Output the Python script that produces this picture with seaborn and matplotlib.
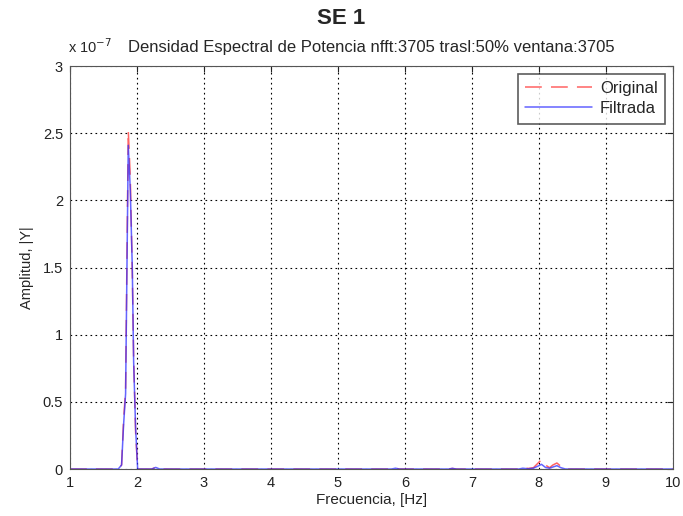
import matplotlib
matplotlib.use("Agg")
import matplotlib.pyplot as plt
import seaborn as sns
import pandas as pd

# values (amplitude in units of 1e-7)
freq = [1.00, 1.72, 1.77, 1.80, 1.83, 1.87, 1.90, 1.93, 1.95, 1.98, 2.01,
        2.22, 2.28, 2.34, 5.80, 5.86, 5.92, 6.65, 6.71, 6.77,
        7.70, 7.76, 7.84, 7.92, 7.98, 8.04, 8.10, 8.16, 8.21, 8.27, 8.33, 8.40, 10.00]
original = [0, 0, 0.03, 0.36, 0.59, 2.52, 2.17, 1.47, 0.83, 0.27, 0,
            0, 0.012, 0, 0, 0.005, 0, 0, 0.004, 0,
            0, 0.012, 0.004, 0.01, 0.04, 0.07, 0.03, 0.01, 0.03, 0.045, 0.02, 0, 0]
filtrada = [0, 0, 0.03, 0.33, 0.56, 2.41, 2.08, 1.50, 0.80, 0.30, 0,
            0, 0.012, 0, 0, 0.006, 0, 0, 0.005, 0,
            0, 0.006, 0.002, 0.006, 0.02, 0.035, 0.012, 0.006, 0.015, 0.025, 0.01, 0, 0]

df = pd.DataFrame({
    "freq": freq * 2,
    "amp": original + filtrada,
    "serie": ["Original"] * len(freq) + ["Filtrada"] * len(freq),
})

sns.set_style("white")
plt.rcParams["font.family"] = ["Liberation Sans", "DejaVu Sans"]

fig = plt.figure(figsize=(6.83, 5.16), dpi=100)
ax = fig.add_axes([0.1025, 0.091, 0.8825, 0.781])

sns.lineplot(data=df, x="freq", y="amp", hue="serie", style="serie",
             palette={"Original": "#ff3030", "Filtrada": "#3030ff"},
             dashes={"Original": (11, 6), "Filtrada": ""},
             linewidth=1.1, alpha=0.75, ax=ax, sort=False, estimator=None)

ax.set_xlim(1, 10)
ax.set_ylim(0, 3)
ax.set_xticks(range(1, 11))
ax.set_yticks([0, 0.5, 1, 1.5, 2, 2.5, 3])
ax.set_yticklabels(["0", "0.5", "1", "1.5", "2", "2.5", "3"])
ax.grid(True, color="black", linestyle=(0, (1.5, 3)), linewidth=0.8)
for s in ax.spines.values():
    s.set_color("#555555")
    s.set_linewidth(0.8)
ax.tick_params(direction="in", length=4, top=True, right=True, labelsize=10.5,
               colors="#222222", pad=5)

ax.set_xlabel("Frecuencia, [Hz]", fontsize=11, labelpad=2)
ax.set_ylabel("Amplitud, |Y|", fontsize=10.5, labelpad=6)
ax.set_title("Densidad Espectral de Potencia nfft:3705 trasl:50% ventana:3705",
             fontsize=12, pad=10)
ax.text(-0.003, 1.025, r"x 10$^{-7}$", transform=ax.transAxes, fontsize=10.5,
        ha="left", va="bottom")
fig.suptitle("SE 1", fontsize=16, fontweight="bold", y=0.985)

leg = ax.legend(loc="upper right", fontsize=12, frameon=True, fancybox=False,
                borderaxespad=0.45, handlelength=4.0, handletextpad=0.5,
                borderpad=0.45, labelspacing=0.3)
leg.get_frame().set_edgecolor("#333333")
leg.get_frame().set_linewidth(1.2)
leg.set_title(None)

fig.savefig("out.png", dpi=100, facecolor="white")
